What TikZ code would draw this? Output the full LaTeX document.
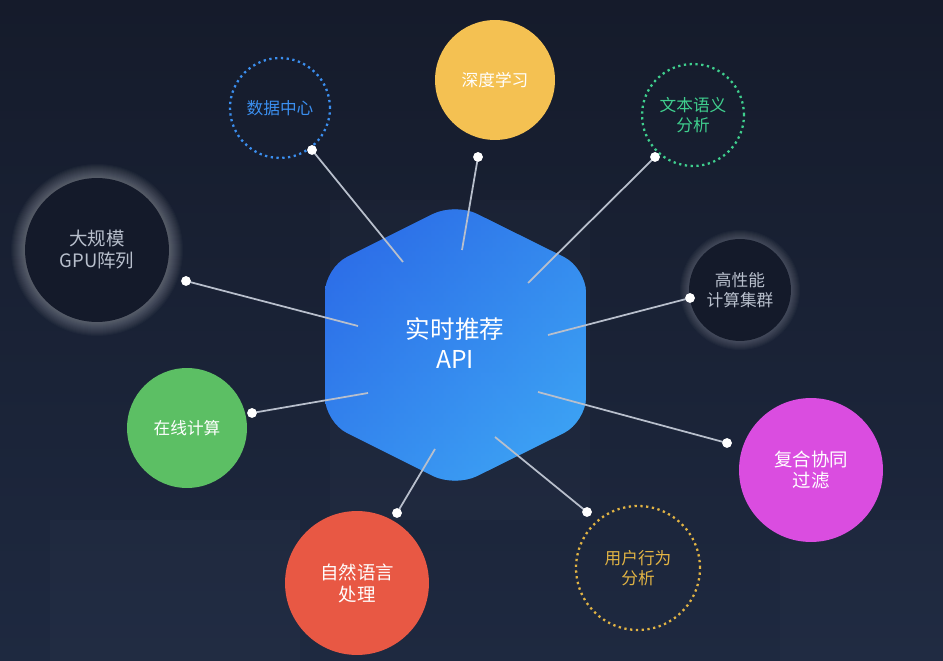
\documentclass[tikz,border=0pt]{standalone}
\usepackage{fontspec}
\setmainfont{Noto Sans CJK SC}
\usetikzlibrary{shapes.geometric}
\definecolor{bgtop}{HTML}{151B2B}
\definecolor{bgbot}{HTML}{1E2940}
\definecolor{hexA}{HTML}{2A66E6}
\definecolor{hexB}{HTML}{3FAAF6}
\definecolor{cblue}{HTML}{3B8FF0}
\definecolor{cyellow}{HTML}{F4C152}
\definecolor{cgreen}{HTML}{3FCF8E}
\definecolor{cdark}{HTML}{141A2A}
\definecolor{cgreenf}{HTML}{5CBF64}
\definecolor{cmag}{HTML}{DA4DE0}
\definecolor{cred}{HTML}{E85844}
\definecolor{cgold}{HTML}{E2B444}
\definecolor{lgray}{HTML}{B8BFCC}
\begin{document}
\begin{tikzpicture}[x=0.02cm,y=-0.02cm,
  bub/.style={circle,minimum size=#1*0.04cm,inner sep=0pt,align=center,font=\fontsize{9.5}{11.5}\selectfont},
  dotb/.style={draw=#1,dotted,line width=1.3pt,text=#1},
  conn/.style={draw=lgray,line width=1pt},
  dotpt/.style={circle,fill=white,minimum size=0.19cm,inner sep=0pt}]
\shade[top color=bgtop,bottom color=bgbot] (0,0) rectangle (943,661);
\useasboundingbox (0,0) rectangle (943,661);
% faint panels
\fill[white,opacity=0.015] (330,200) rectangle (590,520);
\fill[white,opacity=0.015] (50,520) rectangle (300,661);
\fill[white,opacity=0.01] (780,520) rectangle (943,661);
% glows
\foreach \r in {73,74,...,86}{
  \fill[white,opacity=0.025] (97,250) circle (\r);}
\foreach \r in {51,52,...,60}{
  \fill[white,opacity=0.025] (740,290) circle (\r);}
% hexagon
\begin{scope}
\clip[rounded corners=14pt] (455,203) -- (586,268) -- (586,422) -- (455,487) -- (325,422) -- (325,268) -- cycle;
\shade[left color=hexA,right color=hexB] (325,203) rectangle (586,487);
\shade[top color=hexA,bottom color=hexB,opacity=0.5] (325,203) rectangle (586,487);
\end{scope}
\node[font=\fontsize{14}{17}\selectfont,text=white,align=center] (hex) at (455,343) {实时推荐\\API};
% bubbles
\node[bub=50,dotb=cblue] (dc) at (280,108) {数据中心};
\node[bub=60,fill=cyellow,text=white] (dl) at (495,80) {深度学习};
\node[bub=51,dotb=cgreen] (wb) at (693,115) {文本语义\\分析};
\node[bub=72,fill=cdark,text=lgray,font=\fontsize{10.5}{12.5}\selectfont] (gpu) at (97,250) {大规模\\GPU阵列};
\node[bub=51,fill=cdark,text=lgray] (hpc) at (740,290) {高性能\\计算集群};
\node[bub=60,fill=cgreenf,text=white] (zx) at (187,428) {在线计算};
\node[bub=72,fill=cmag,text=white,font=\fontsize{10.5}{12.5}\selectfont] (fh) at (811,470) {复合协同\\过滤};
\node[bub=72,fill=cred,text=white,font=\fontsize{10.5}{12.5}\selectfont] (zr) at (357,583) {自然语言\\处理};
\node[bub=62,dotb=cgold] (yh) at (638,568) {用户行为\\分析};
% connector ends
\coordinate (s1) at (403,262); \node[dotpt] (e1) at (312,150) {};
\coordinate (s2) at (462,250); \node[dotpt] (e2) at (478,157) {};
\coordinate (s3) at (528,283); \node[dotpt] (e3) at (655,157) {};
\coordinate (s4) at (358,326); \node[dotpt] (e4) at (186,281) {};
\coordinate (s5) at (548,335); \node[dotpt] (e5) at (690,298) {};
\coordinate (s6) at (368,393); \node[dotpt] (e6) at (252,413) {};
\coordinate (s7) at (538,392); \node[dotpt] (e7) at (727,443) {};
\coordinate (s8) at (435,449); \node[dotpt] (e8) at (397,513) {};
\coordinate (s9) at (495,437); \node[dotpt] (e9) at (587,512) {};
\foreach \i in {1,...,9}{\draw[conn] (s\i) -- (e\i.center);}
\foreach \i in {1,...,9}{\node[dotpt] at (e\i) {};}
\end{tikzpicture}
\end{document}
